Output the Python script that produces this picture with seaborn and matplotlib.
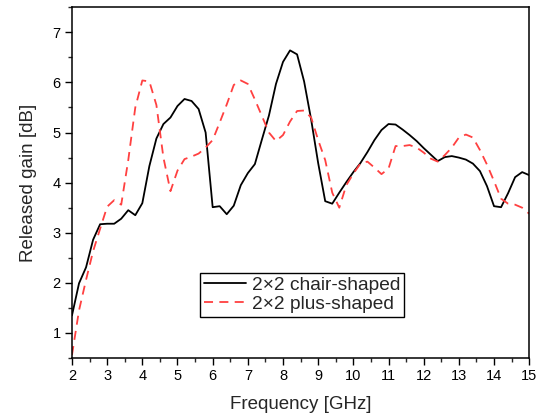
import numpy as np
import pandas as pd
import matplotlib
matplotlib.use("Agg")
import matplotlib.pyplot as plt
from matplotlib.ticker import MultipleLocator
import seaborn as sns

# Frequency samples (GHz), 0.2 GHz step
freq = [round(2.0 + 0.2 * i, 1) for i in range(66)]

# Released gain of the 2x2 chair-shaped array (dB)
gain_chair = [
    1.35, 1.99, 2.31, 2.86, 3.17, 3.18, 3.18, 3.28, 3.45, 3.35,
    3.59, 4.33, 4.88, 5.17, 5.30, 5.53, 5.67, 5.63, 5.47, 5.00,
    3.51, 3.53, 3.37, 3.54, 3.95, 4.19, 4.37, 4.86, 5.34, 5.97,
    6.41, 6.64, 6.56, 6.02, 5.26, 4.39, 3.63, 3.58, 3.80, 4.01,
    4.21, 4.39, 4.61, 4.85, 5.05, 5.17, 5.16, 5.06, 4.95, 4.83,
    4.69, 4.56, 4.43, 4.51, 4.53, 4.50, 4.46, 4.38, 4.23, 3.93,
    3.53, 3.51, 3.79, 4.11, 4.21, 4.15,
]

# Released gain of the 2x2 plus-shaped array (dB)
gain_plus = [
    0.56, 1.45, 2.06, 2.63, 3.08, 3.52, 3.65, 3.56, 4.45, 5.50,
    6.04, 6.02, 5.55, 4.50, 3.83, 4.24, 4.47, 4.52, 4.58, 4.70,
    4.85, 5.20, 5.56, 5.95, 6.04, 5.97, 5.66, 5.33, 5.00, 4.83,
    4.95, 5.22, 5.43, 5.44, 5.30, 4.85, 4.45, 3.80, 3.50, 3.95,
    4.18, 4.38, 4.42, 4.30, 4.17, 4.28, 4.73, 4.73, 4.75, 4.70,
    4.60, 4.48, 4.42, 4.55, 4.70, 4.90, 4.96, 4.90, 4.65, 4.36,
    4.03, 3.68, 3.58, 3.56, 3.50, 3.38,
]

labels = ["2\u00d72 chair-shaped", "2\u00d72 plus-shaped"]

df = pd.DataFrame({
    "Frequency": freq * 2,
    "Gain": gain_chair + gain_plus,
    "Design": [labels[0]] * len(freq) + [labels[1]] * len(freq),
})

sns.set_theme(style="ticks")
plt.rcParams["font.family"] = ["Liberation Sans", "DejaVu Sans"]

fig = plt.figure(figsize=(5.4, 4.17), dpi=100)
ax = fig.add_axes([0.1333, 0.1415, 0.8467, 0.841])

sns.lineplot(
    data=df, x="Frequency", y="Gain", hue="Design", style="Design",
    palette={labels[0]: "black", labels[1]: "#ff4040"},
    dashes={labels[0]: "", labels[1]: (5, 3.5)},
    linewidth=1.3, ax=ax, legend=False,
)

ax.set_xlim(2, 15)
ax.set_ylim(0.5, 7.5)
ax.xaxis.set_major_locator(MultipleLocator(1))
ax.xaxis.set_minor_locator(MultipleLocator(0.5))
ax.yaxis.set_major_locator(MultipleLocator(1))
ax.yaxis.set_minor_locator(MultipleLocator(0.5))
ax.tick_params(which="major", direction="out", length=5, width=1.0,
               labelsize=10.5, colors="black", pad=3)
ax.tick_params(which="minor", direction="out", length=3, width=1.0)
ax.tick_params(top=False, right=False)

for s in ax.spines.values():
    s.set_visible(True)
    s.set_color("black")
    s.set_linewidth(1.1)

ax.set_xlabel("Frequency [GHz]", fontsize=13.5, labelpad=9)
ax.set_ylabel("Released gain [dB]", fontsize=13.5, labelpad=11)

handles = ax.get_lines()[:2]
leg = ax.legend(
    handles, labels, loc="lower left", bbox_to_anchor=(0.28, 0.118),
    fontsize=13.8, frameon=True, fancybox=False, framealpha=1,
    edgecolor="black", handlelength=2.2, handletextpad=0.3,
    borderpad=0.2, labelspacing=0.08, borderaxespad=0,
)
leg.get_frame().set_linewidth(1.0)

fig.savefig("out.png", dpi=100)
